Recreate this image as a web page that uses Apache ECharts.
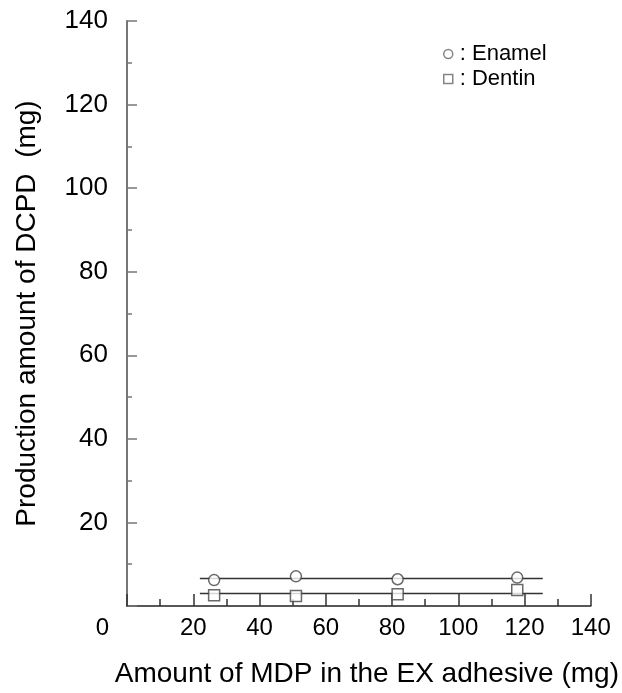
<!DOCTYPE html>
<html>
<head>
<meta charset="utf-8">
<script src="https://cdn.jsdelivr.net/npm/echarts@6/dist/echarts.min.js"></script>
<style>
  html, body { margin: 0; padding: 0; background: #fff; }
  #chart { width: 622px; height: 693px; }
</style>
</head>
<body>
<div id="chart"></div>
<script>
// MDP amount in the EX adhesive (mg)
const mdpAmount = [26.3, 51, 81.7, 117.8];
// DCPD produced (mg)
const enamelDcpd = [6.2, 7.1, 6.4, 6.8];
const dentinDcpd = [2.6, 2.4, 2.8, 3.8];
// flat fit lines, ends
const fitX = [22, 125.5];
const enamelFit = [6.6, 6.6];
const dentinFit = [3.0, 3.0];

const font = 'Liberation Sans, Arial, sans-serif';

const chart = echarts.init(document.getElementById('chart'));

const pairs = (xs, ys) => xs.map((x, i) => [x, ys[i]]);

const markerStyle = {
  color: '#fff',
  borderColor: '#444',
  borderWidth: 1.5,
};

chart.setOption({
  animation: false,
  grid: { left: 127, right: 29, top: 21, bottom: 81, containLabel: false },
  legend: {
    orient: 'vertical',
    left: 438,
    top: 38,
    itemWidth: 9,
    itemHeight: 9,
    itemGap: 3,
    data: [
      { name: 'Enamel', icon: 'circle' },
      { name: 'Dentin', icon: 'rect' },
    ],
    formatter: ': {name}',
    itemStyle: { color: '#fff', borderColor: '#666', borderWidth: 1.5 },
    textStyle: { fontFamily: font, fontSize: 22, color: '#000', padding: [0, 0, 0, 2] },
  },
  xAxis: {
    type: 'value',
    min: 0,
    max: 140,
    interval: 20,
    name: 'Amount of MDP in the EX adhesive (mg)',
    nameLocation: 'middle',
    nameGap: 54,
    nameTextStyle: { fontFamily: font, fontSize: 28, color: '#000', padding: [0, 0, 0, 16] },
    axisLine: { lineStyle: { color: '#222', width: 1.5 } },
    axisTick: { inside: true, length: 12, lineStyle: { color: '#333', width: 1.5 } },
    minorTick: { show: true, splitNumber: 2, length: 7, lineStyle: { color: '#333', width: 1.5 } },
    axisLabel: {
      margin: 10,
      fontFamily: font,
      fontSize: 24,
      color: '#000',
      formatter: (v) => (v === 0 ? '{o|0}' : String(v)),
      rich: { o: { fontFamily: font, fontSize: 24, color: '#000', padding: [0, 49, 0, 0] } },
    },
    splitLine: { show: false },
  },
  yAxis: {
    type: 'value',
    min: 0,
    max: 140,
    interval: 20,
    name: 'Production amount of DCPD  (mg)',
    nameLocation: 'middle',
    nameGap: 86,
    nameTextStyle: { fontFamily: font, fontSize: 28, color: '#000' },
    axisLine: { show: true, lineStyle: { color: '#777', width: 2 } },
    axisTick: { inside: true, length: 10, lineStyle: { color: '#777', width: 1.5 } },
    minorTick: { show: true, splitNumber: 2, length: 5, lineStyle: { color: '#777', width: 1.5 } },
    axisLabel: {
      margin: 19,
      fontFamily: font,
      fontSize: 26,
      color: '#000',
      showMinLabel: false,
      formatter: (v) => (v === 0 ? '' : String(v)),
    },
    splitLine: { show: false },
  },
  series: [
    {
      name: 'Enamel fit',
      type: 'line',
      data: pairs(fitX, enamelFit),
      symbol: 'none',
      lineStyle: { color: '#333', width: 1.5 },
      z: 1,
    },
    {
      name: 'Dentin fit',
      type: 'line',
      data: pairs(fitX, dentinFit),
      symbol: 'none',
      lineStyle: { color: '#333', width: 1.5 },
      z: 1,
    },
    {
      name: 'Enamel',
      type: 'scatter',
      symbol: 'circle',
      symbolSize: 11,
      data: pairs(mdpAmount, enamelDcpd),
      itemStyle: markerStyle,
      z: 3,
    },
    {
      name: 'Dentin',
      type: 'scatter',
      symbol: 'rect',
      symbolSize: 11,
      data: pairs(mdpAmount, dentinDcpd),
      itemStyle: markerStyle,
      z: 3,
    },
  ],
});
</script>
</body>
</html>
